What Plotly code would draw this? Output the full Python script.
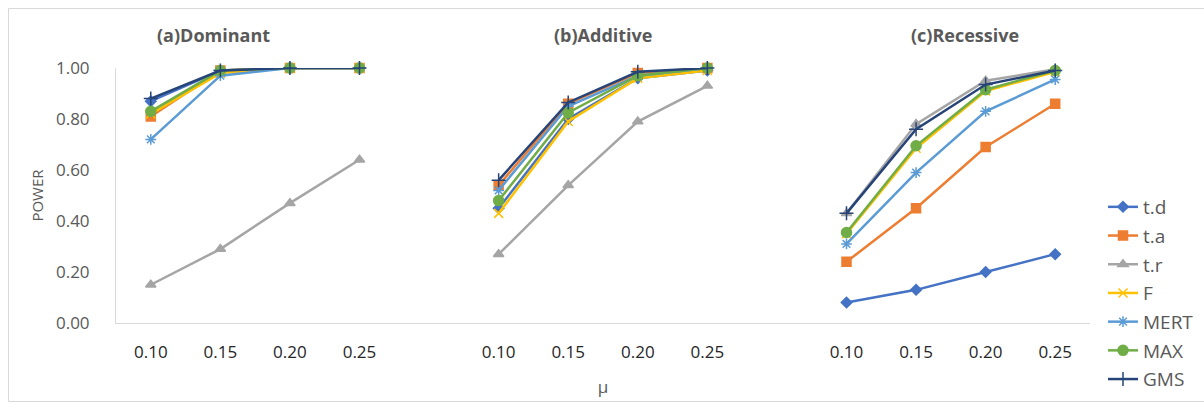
import plotly.graph_objects as go

mu_labels = ["0.10", "0.15", "0.20", "0.25"]
panels = ["(a)Dominant", "(b)Additive", "(c)Recessive"]
series_names = ["t.d", "t.a", "t.r", "F", "MERT", "MAX", "GMS"]

# values per panel (Dominant, Additive, Recessive), each at mu = 0.10, 0.15, 0.20, 0.25
td = [[0.87, 0.99, 1.00, 1.00], [0.45, 0.80, 0.96, 0.99], [0.08, 0.13, 0.20, 0.27]]
ta = [[0.81, 0.99, 1.00, 1.00], [0.54, 0.86, 0.98, 1.00], [0.24, 0.45, 0.69, 0.86]]
tr = [[0.15, 0.29, 0.47, 0.64], [0.27, 0.54, 0.79, 0.93], [0.43, 0.78, 0.95, 0.995]]
F = [[0.82, 0.98, 1.00, 1.00], [0.43, 0.79, 0.96, 0.99], [0.35, 0.685, 0.91, 0.985]]
MERT = [[0.72, 0.97, 1.00, 1.00], [0.52, 0.85, 0.97, 1.00], [0.31, 0.59, 0.83, 0.955]]
MAX = [[0.83, 0.99, 1.00, 1.00], [0.48, 0.825, 0.97, 1.00], [0.355, 0.695, 0.915, 0.99]]
GMS = [[0.88, 0.99, 1.00, 1.00], [0.56, 0.865, 0.985, 1.00], [0.43, 0.76, 0.935, 0.99]]

colors = ["#4472C4", "#ED7D31", "#A5A5A5", "#FFC000", "#5B9BD5", "#70AD47", "#264478"]
symbols = ["diamond", "square", "triangle-up", "x-thin-open", "asterisk-open", "circle", "cross-thin-open"]
sizes = [8, 9, 9, 9, 9, 10, 10]
all_series = [td, ta, tr, F, MERT, MAX, GMS]

# x positions: 4 categories per panel with one empty category between panels
xs, tickvals, ticktext = [], [], []
for p in range(len(panels)):
    for i in range(len(mu_labels)):
        xs.append(p * 5 + i)
        tickvals.append(p * 5 + i)
        ticktext.append(mu_labels[i])
    if p < len(panels) - 1:
        xs.append(None)

fig = go.Figure()
for k, name in enumerate(series_names):
    ys = []
    for p in range(len(panels)):
        ys.extend(all_series[k][p])
        if p < len(panels) - 1:
            ys.append(None)
    fig.add_trace(go.Scatter(
        x=xs, y=ys, name=name, mode="lines+markers",
        line=dict(color=colors[k], width=2.5),
        marker=dict(symbol=symbols[k], size=sizes[k], color=colors[k],
                    line=dict(color=colors[k], width=1.5)),
        connectgaps=False, cliponaxis=False, legendgroup=name,
    ))

title_x = [213, 603, 965]
for p, t in enumerate(panels):
    fig.add_annotation(text="<b>%s</b>" % t, xref="paper", yref="paper",
                       x=(title_x[p] - 116) / 974, y=(323 - 35) / 255,
                       showarrow=False, xanchor="center", yanchor="middle",
                       font=dict(family="Open Sans", size=18, color="#595959"))

fig.add_shape(type="rect", xref="paper", yref="paper",
              x0=(8.5 - 116) / 974, x1=1.2, y0=(323 - 401.5) / 255, y1=(323 - 8.5) / 255,
              line=dict(color="#D9D9D9", width=1), fillcolor="rgba(0,0,0,0)", layer="below")

fig.update_layout(
    width=1204, height=403,
    margin=dict(l=116, r=114, t=68, b=80, autoexpand=False),
    paper_bgcolor="white", plot_bgcolor="white",
    font=dict(family="Open Sans", size=16, color="#595959"),
    showlegend=True,
    legend=dict(x=(1103 - 116) / 974, y=(323 - 188) / 255, xanchor="left", yanchor="top",
                font=dict(family="Open Sans", size=19, color="#595959"),
                tracegroupgap=1, bgcolor="rgba(0,0,0,0)", itemwidth=30),
    xaxis=dict(range=[-0.5, 13.5], tickmode="array", tickvals=tickvals, ticktext=ticktext,
               showgrid=False, zeroline=False, showline=True, linecolor="#D9D9D9", linewidth=1,
               ticks="", ticklabelstandoff=14, automargin=False,
               tickfont=dict(family="Open Sans", size=17, color="#262626"),
               title=dict(text="μ", font=dict(family="Open Sans", size=17, color="#595959"), standoff=18)),
    yaxis=dict(range=[0, 1.0], tickvals=[0, 0.2, 0.4, 0.6, 0.8, 1.0], tickformat=".2f",
               showgrid=False, zeroline=False, showline=True, linecolor="#D9D9D9", linewidth=1,
               ticks="", ticklabelstandoff=22, automargin=False,
               tickfont=dict(family="Open Sans", size=17, color="#595959"),
               title=dict(text="POWER", font=dict(family="Open Sans", size=15, color="#595959"), standoff=8)),
)

fig.write_html("out.html")
